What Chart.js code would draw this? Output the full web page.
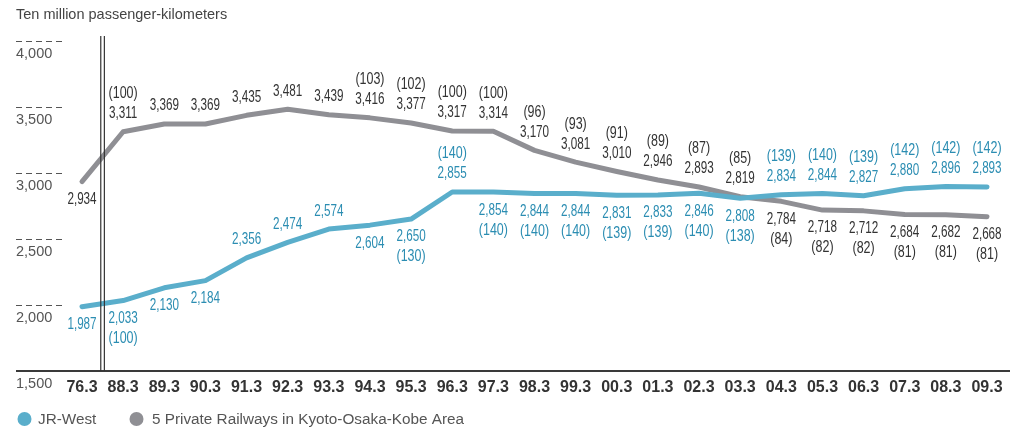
<!DOCTYPE html>
<html>
<head>
<meta charset="utf-8">
<script src="https://cdn.jsdelivr.net/npm/chart.js@4/dist/chart.umd.min.js"></script>
<style>
  html, body { margin: 0; padding: 0; background: #fff; }
  #wrap { width: 1027px; height: 430px; position: relative; }
</style>
</head>
<body>
<div id="wrap"><canvas id="c" width="1027" height="430"></canvas></div>
<script>
const categories = ['76.3','88.3','89.3','90.3','91.3','92.3','93.3','94.3','95.3','96.3','97.3','98.3','99.3','00.3','01.3','02.3','03.3','04.3','05.3','06.3','07.3','08.3','09.3'];
const jrWest = [1987,2033,2130,2184,2356,2474,2574,2604,2650,2855,2854,2844,2844,2831,2833,2846,2808,2834,2844,2827,2880,2896,2893];
const privateRailways = [2934,3311,3369,3369,3435,3481,3439,3416,3377,3317,3314,3170,3081,3010,2946,2893,2819,2784,2718,2712,2684,2682,2668];
const jrWestIndex = [null,100,null,null,null,null,null,null,130,140,140,140,140,139,139,140,138,139,140,139,142,142,142];
const privateIndex = [null,100,null,null,null,null,null,103,102,100,100,96,93,91,89,87,85,84,82,82,81,81,81];
const yTicks = [1500,2000,2500,3000,3500,4000];
const seriesNames = ['JR-West','5 Private Railways in Kyoto-Osaka-Kobe Area'];
const unitLabel = 'Ten million passenger-kilometers';

// label placement (style, not data): 'a' above, 'b' below
const labelSides = [
  ['b','b','b','b','a','a','a','b','b','a','b','b','b','b','b','b','b','a','a','a','a','a','a'],
  ['b','a','a','a','a','a','a','a','a','a','a','a','a','a','a','a','a','b','b','b','b','b','b']
];

const JR_LINE = '#5aaecb';
const JR_TEXT = '#2b8db2';
const PR_LINE = '#8f8f94';
const PR_TEXT = '#333333';
const SANS = "'Liberation Sans', Arial, sans-serif";
const fmt = v => v.toLocaleString('en-US');

function condensedText(ctx, text, x, y, sx) {
  ctx.save();
  ctx.translate(x, y);
  ctx.scale(sx, 1);
  ctx.fillText(text, 0, 0);
  ctx.restore();
}

const decor = {
  id: 'decor',
  beforeDatasetsDraw(chart) {
    const ctx = chart.ctx, y = chart.scales.y;
    ctx.save();
    ctx.strokeStyle = '#555';
    ctx.lineWidth = 1;
    ctx.setLineDash([6, 4]);
    yTicks.forEach(t => {
      if (t === yTicks[0]) return;
      const py = Math.round(y.getPixelForValue(t)) + 0.5;
      ctx.beginPath(); ctx.moveTo(16, py); ctx.lineTo(62, py); ctx.stroke();
    });
    ctx.setLineDash([]);
    const by = y.getPixelForValue(yTicks[0]);
    ctx.strokeStyle = '#3a3a3a';
    ctx.lineWidth = 2;
    ctx.beginPath(); ctx.moveTo(16, by); ctx.lineTo(1010, by); ctx.stroke();
    ctx.restore();
  },
  afterDatasetsDraw(chart) {
    const ctx = chart.ctx, x = chart.scales.x, y = chart.scales.y;
    ctx.save();
    const mid = (x.getPixelForValue(0) + x.getPixelForValue(1)) / 2;
    const by = y.getPixelForValue(yTicks[0]);
    ctx.strokeStyle = '#333';
    ctx.lineWidth = 1.2;
    [mid - 1.8, mid + 1.8].forEach(px => {
      ctx.beginPath(); ctx.moveTo(px, 36); ctx.lineTo(px, by); ctx.stroke();
    });
    ctx.font = '16px ' + SANS;
    ctx.textAlign = 'center';
    ctx.textBaseline = 'middle';
    const idx = [jrWestIndex, privateIndex];
    const colors = [JR_TEXT, PR_TEXT];
    chart.data.datasets.forEach((ds, di) => {
      const meta = chart.getDatasetMeta(di);
      ctx.fillStyle = colors[di];
      meta.data.forEach((pt, i) => {
        const dir = labelSides[di][i] === 'a' ? -1 : 1;
        condensedText(ctx, fmt(ds.data[i]), pt.x, pt.y + dir * 18, 0.73);
        if (idx[di][i] != null) {
          condensedText(ctx, '(' + idx[di][i] + ')', pt.x, pt.y + dir * 38, 0.78);
        }
      });
    });
    ctx.font = '15.3px ' + SANS;
    ctx.textAlign = 'left';
    const ly = 419;
    const items = [[24.5, 38, JR_LINE], [136.5, 152, PR_LINE]];
    items.forEach((it, k) => {
      ctx.fillStyle = it[2];
      ctx.beginPath(); ctx.arc(it[0], ly, 7, 0, Math.PI * 2); ctx.fill();
      ctx.fillStyle = '#555';
      ctx.fillText(seriesNames[k], it[1], ly + 0.5);
    });
    ctx.restore();
  }
};

new Chart(document.getElementById('c'), {
  type: 'line',
  data: {
    labels: categories,
    datasets: [
      { label: seriesNames[0], data: jrWest, borderColor: JR_LINE, borderWidth: 5, pointRadius: 0, tension: 0, clip: false, borderCapStyle: 'round', borderJoinStyle: 'round' },
      { label: seriesNames[1], data: privateRailways, borderColor: PR_LINE, borderWidth: 5, pointRadius: 0, tension: 0, clip: false, borderCapStyle: 'round', borderJoinStyle: 'round' }
    ]
  },
  options: {
    responsive: false,
    animation: false,
    layout: { padding: { left: 16, right: 40, top: 0, bottom: 29 } },
    plugins: {
      legend: { display: false },
      tooltip: { enabled: false },
      title: {
        display: true, text: unitLabel, align: 'start',
        color: '#444', font: { family: SANS, size: 14.5, weight: 'normal' },
        padding: { top: 6, bottom: 17.3 }
      }
    },
    scales: {
      x: {
        offset: false,
        grid: { display: false, drawTicks: false },
        border: { display: false },
        ticks: { autoSkip: false, maxRotation: 0, padding: 7, color: '#333', font: { family: SANS, size: 16, weight: 'bold' } },
        afterFit(s) { s.height = 30; }
      },
      y: {
        min: 1500, max: 4000,
        grid: { display: false, drawTicks: false },
        border: { display: false },
        afterBuildTicks(s) { s.ticks = yTicks.map(v => ({ value: v })); },
        ticks: {
          crossAlign: 'far', labelOffset: 13, padding: 0,
          color: '#555', font: { family: SANS, size: 14.5 },
          callback: v => fmt(v)
        },
        afterFit(s) { s.width = 66; }
      }
    }
  },
  plugins: [decor]
});
</script>
</body>
</html>
